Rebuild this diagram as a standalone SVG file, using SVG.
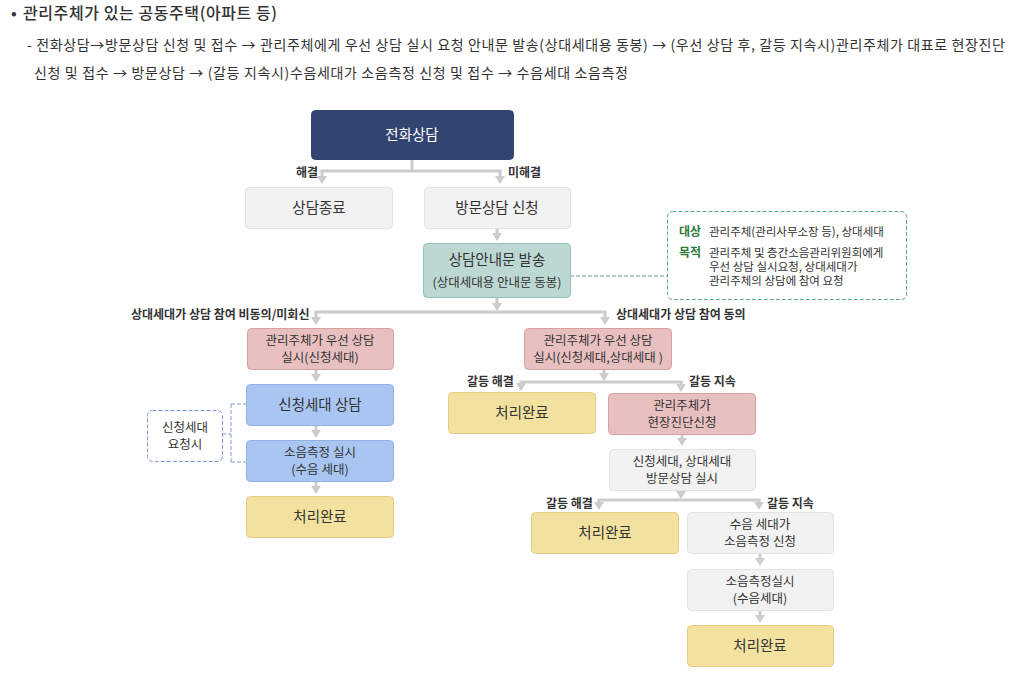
<svg xmlns="http://www.w3.org/2000/svg" width="1020" height="678" viewBox="0 0 1020 678">
<style>
text{font-family:"Noto Sans CJK KR","Noto Sans",sans-serif;fill:#333;}
.hd{font-size:16px;font-weight:500;}
.ln{font-size:14px;}
.n15{font-size:14.5px;text-anchor:middle;}
.n13{font-size:12.5px;text-anchor:middle;}
.lb{font-size:12px;font-weight:700;fill:#333;}
.nt{font-size:11.5px;}
.gk{font-size:12px;font-weight:700;fill:#2f7a3a;}
.navy{fill:#334470;stroke:#334470;}
.gray{fill:#f2f2f2;stroke:#e2e2e2;}
.teal{fill:#bdd7d3;stroke:#92c1b7;}
.pink{fill:#e8c0c0;stroke:#daa0a0;}
.blue{fill:#a9c5f2;stroke:#92b0e6;}
.yel{fill:#f3e29f;stroke:#e4cd82;}
.con{fill:none;stroke:#cccccc;stroke-width:3;}
.ar{marker-end:url(#arr);}
</style>
<defs>
<marker id="arr" viewBox="0 0 10 10" refX="3" refY="5" markerWidth="10" markerHeight="10" markerUnits="userSpaceOnUse" orient="auto">
<path d="M0,0 L8,5 L0,10 z" fill="#cccccc"/>
</marker>
</defs>
<rect width="1020" height="678" fill="#ffffff"/>

<g id="header">
<text x="11" y="19" class="hd">•</text>
<text x="23" y="19" class="hd" textLength="254" lengthAdjust="spacing">관리주체가 있는 공동주택(아파트 등)</text>
<text x="27" y="50" class="ln" textLength="978" lengthAdjust="spacing">- 전화상담→방문상담 신청 및 접수 → 관리주체에게 우선 상담 실시 요청 안내문 발송(상대세대용 동봉) → (우선 상담 후, 갈등 지속시)관리주체가 대표로 현장진단</text>
<text x="34" y="78" class="ln" textLength="594" lengthAdjust="spacing">신청 및 접수 → 방문상담 → (갈등 지속시)수음세대가 소음측정 신청 및 접수 → 수음세대 소음측정</text>
</g>

<g id="connectors">
<path class="con" d="M412,159 V171 M320.5,171 H501.5"/>
<path class="con ar" d="M322,171 V179"/>
<path class="con ar" d="M500,171 V179"/>
<path class="con ar" d="M497,228 V236"/>
<path class="con ar" d="M497,297 V306"/>
<path class="con" d="M314.5,312 H606.5"/>
<path class="con ar" d="M316,312 V320"/>
<path class="con ar" d="M605,312 V320"/>
<path class="con ar" d="M316,369 V377"/>
<path class="con ar" d="M316,425 V433"/>
<path class="con ar" d="M316,481 V489"/>
<path class="con ar" d="M604,369 V376"/>
<path class="con" d="M519.5,382 H682.5"/>
<path class="con ar" d="M521,382 V386"/>
<path class="con ar" d="M681,382 V387"/>
<path class="con ar" d="M682,434 V441"/>
<path class="con ar" d="M681,490 V494"/>
<path class="con" d="M597.5,500 H760.5"/>
<path class="con ar" d="M599,500 V505"/>
<path class="con ar" d="M759,500 V505"/>
<path class="con ar" d="M760,553 V561"/>
<path class="con ar" d="M760,610 V618"/>
<path d="M570,276 H667" fill="none" stroke="#5aa58d" stroke-width="1" stroke-dasharray="4,2"/>
<path d="M222,434 H231 M231,404 V462 M231,404 H246 M231,462 H246" fill="none" stroke="#8098d8" stroke-width="1" stroke-dasharray="4,2"/>
</g>

<g id="labels">
<text x="318" y="177" class="lb" text-anchor="end">해결</text>
<text x="508" y="177" class="lb">미해결</text>
<text x="131" y="319" class="lb">상대세대가 상담 참여 비동의/미회신</text>
<text x="616" y="319" class="lb">상대세대가 상담 참여 동의</text>
<text x="467" y="386" class="lb">갈등 해결</text>
<text x="689" y="386" class="lb">갈등 지속</text>
<text x="546" y="508" class="lb">갈등 해결</text>
<text x="767" y="508" class="lb">갈등 지속</text>
</g>

<g id="n-call">
<rect x="311.5" y="110.5" width="202" height="49" rx="4" class="navy"/>
<text x="412" y="140" class="n15" style="fill:#ffffff">전화상담</text>
</g>
<g id="n-end">
<rect x="245.5" y="187.5" width="147" height="41" rx="4" class="gray"/>
<text x="319" y="213" class="n15">상담종료</text>
</g>
<g id="n-visit">
<rect x="424.5" y="187.5" width="146" height="41" rx="4" class="gray"/>
<text x="497" y="213" class="n15">방문상담 신청</text>
</g>
<g id="n-notice">
<rect x="423.5" y="243.5" width="147" height="54" rx="4" class="teal"/>
<text x="497" y="265" class="n15">상담안내문 발송</text>
<text x="497" y="287" class="n13">(상대세대용 안내문 동봉)</text>
</g>
<g id="n-note">
<rect x="667.5" y="211.5" width="239" height="88" rx="5" fill="#ffffff" stroke="#5aa58d" stroke-dasharray="4,2"/>
<text x="679" y="236" class="gk">대상</text>
<text x="709" y="236" class="nt">관리주체(관리사무소장 등), 상대세대</text>
<text x="679" y="257" class="gk">목적</text>
<text x="709" y="257" class="nt">관리주체 및 층간소음관리위원회에게</text>
<text x="709" y="271" class="nt">우선 상담 실시요청, 상대세대가</text>
<text x="709" y="285" class="nt">관리주체의 상담에 참여 요청</text>
</g>

<g id="n-l1">
<rect x="247.5" y="328.5" width="146" height="41" rx="4" class="pink"/>
<text x="320" y="345" class="n13">관리주체가 우선 상담</text>
<text x="320" y="362" class="n13">실시(신청세대)</text>
</g>
<g id="n-l2">
<rect x="246.5" y="384.5" width="147" height="41" rx="4" class="blue"/>
<text x="320" y="410" class="n15">신청세대 상담</text>
</g>
<g id="n-l3">
<rect x="246.5" y="440.5" width="147" height="41" rx="4" class="blue"/>
<text x="320" y="457" class="n13">소음측정 실시</text>
<text x="320" y="474" class="n13">(수음 세대)</text>
</g>
<g id="n-l4">
<rect x="246.5" y="496.5" width="147" height="41" rx="4" class="yel"/>
<text x="320" y="522" class="n15">처리완료</text>
</g>
<g id="n-req">
<rect x="147.5" y="410.5" width="75" height="51" rx="5" fill="#ffffff" stroke="#8098d8" stroke-dasharray="4,2"/>
<text x="185" y="432" class="n13">신청세대</text>
<text x="185" y="449" class="n13">요청시</text>
</g>

<g id="n-r1">
<rect x="524.5" y="328.5" width="147" height="41" rx="4" class="pink"/>
<text x="598" y="345" class="n13">관리주체가 우선 상담</text>
<text x="598" y="362" class="n13">실시(신청세대,상대세대 )</text>
</g>
<g id="n-r2">
<rect x="448.5" y="392.5" width="147" height="41" rx="4" class="yel"/>
<text x="522" y="418" class="n15">처리완료</text>
</g>
<g id="n-r3">
<rect x="608.5" y="393.5" width="147" height="41" rx="4" class="pink"/>
<text x="682" y="410" class="n13">관리주체가</text>
<text x="682" y="427" class="n13">현장진단신청</text>
</g>
<g id="n-r4">
<rect x="609.5" y="449.5" width="146" height="41" rx="4" class="gray"/>
<text x="682" y="466" class="n13">신청세대, 상대세대</text>
<text x="682" y="483" class="n13">방문상담 실시</text>
</g>
<g id="n-r5">
<rect x="531.5" y="512.5" width="147" height="41" rx="4" class="yel"/>
<text x="605" y="538" class="n15">처리완료</text>
</g>
<g id="n-r6">
<rect x="687.5" y="512.5" width="146" height="41" rx="4" class="gray"/>
<text x="760" y="529" class="n13">수음 세대가</text>
<text x="760" y="546" class="n13">소음측정 신청</text>
</g>
<g id="n-r7">
<rect x="687.5" y="569.5" width="146" height="41" rx="4" class="gray"/>
<text x="760" y="586" class="n13">소음측정실시</text>
<text x="760" y="603" class="n13">(수음세대)</text>
</g>
<g id="n-r8">
<rect x="687.5" y="625.5" width="146" height="41" rx="4" class="yel"/>
<text x="760" y="651" class="n15">처리완료</text>
</g>
</svg>
